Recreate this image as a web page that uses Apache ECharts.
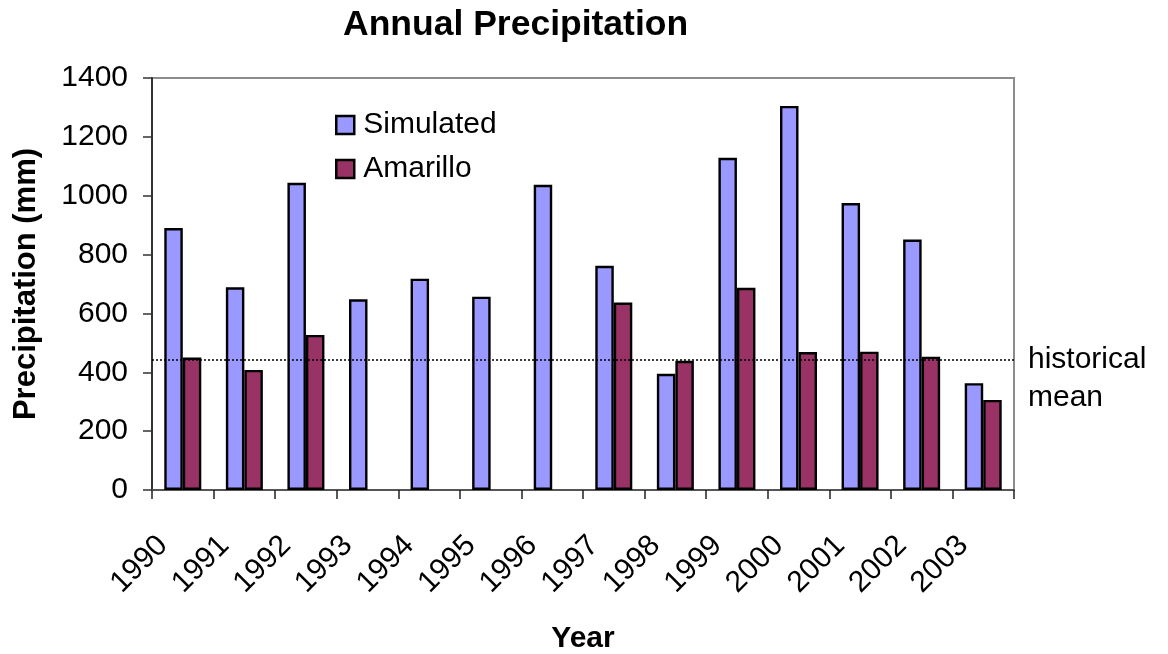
<!DOCTYPE html>
<html>
<head>
<meta charset="utf-8">
<title>Annual Precipitation</title>
<script src="https://cdn.jsdelivr.net/npm/echarts@6/dist/echarts.min.js"></script>
<style>
  html, body { margin: 0; padding: 0; background: #ffffff; }
  #chart { width: 1168px; height: 654px; }
</style>
</head>
<body>
<div id="chart"></div>
<script>
// Annual precipitation (mm), simulated vs. observed at Amarillo
const years = ['1990', '1991', '1992', '1993', '1994', '1995', '1996',
               '1997', '1998', '1999', '2000', '2001', '2002', '2003'];
const simulated = [890, 689, 1044, 648, 718, 657, 1037, 762, 395, 1129, 1305, 975, 851, 363];
const amarillo = [450, 408, 527, null, null, null, null, 637, 439, 687, 469, 470, 453, 306];
const historicalMean = 443;
const yTicks = [0, 200, 400, 600, 800, 1000, 1200, 1400];

const FONT = '"Liberation Sans", Arial, sans-serif';

const chart = echarts.init(document.getElementById('chart'), null, { renderer: 'canvas' });

chart.setOption({
  backgroundColor: '#ffffff',
  animation: false,
  textStyle: { fontFamily: FONT, color: '#000' },
  title: {
    text: 'Annual Precipitation',
    left: 338,
    top: 2,
    textStyle: { fontFamily: FONT, fontSize: 35.5, fontWeight: 'bold', color: '#000' }
  },
  legend: {
    orient: 'vertical',
    left: 330,
    top: 105,
    itemWidth: 18,
    itemHeight: 18,
    itemGap: 14,
    icon: 'rect',
    itemStyle: { borderColor: '#000', borderWidth: 2.5 },
    textStyle: { fontFamily: FONT, fontSize: 30, color: '#000', padding: [0, 0, 0, 4] },
    data: ['Simulated', 'Amarillo']
  },
  grid: {
    left: 152,
    right: 154,
    top: 78,
    bottom: 164,
    outerBoundsMode: 'none',
    containLabel: false,
    show: true,
    borderColor: '#8c8c8c',
    borderWidth: 2,
    backgroundColor: 'transparent'
  },
  xAxis: {
    type: 'category',
    data: years,
    boundaryGap: true,
    name: 'Year',
    nameLocation: 'middle',
    nameGap: 134,
    nameTextStyle: { fontFamily: FONT, fontSize: 30, fontWeight: 'bold', color: '#000' },
    axisLine: { show: true, lineStyle: { color: '#555', width: 2 } },
    axisTick: { show: true, length: 9, lineStyle: { color: '#222', width: 1.5 } },
    axisLabel: {
      rotate: 45,
      margin: 31,
      padding: [0, 28, 0, 0],
      fontFamily: FONT,
      fontSize: 30,
      color: '#000',
      interval: 0
    },
    splitLine: { show: false }
  },
  yAxis: {
    type: 'value',
    min: 0,
    max: 1400,
    interval: 200,
    name: 'Precipitation (mm)',
    nameLocation: 'middle',
    nameGap: 110,
    nameRotate: 90,
    nameTextStyle: { fontFamily: FONT, fontSize: 31, fontWeight: 'bold', color: '#000' },
    axisLine: { show: true, lineStyle: { color: '#333', width: 2 } },
    axisTick: { show: true, length: 9, lineStyle: { color: '#333', width: 1.5 } },
    axisLabel: {
      margin: 24,
      fontFamily: FONT,
      fontSize: 30,
      color: '#000',
      formatter: function (v) { return yTicks.indexOf(v) >= 0 ? String(v) : ''; }
    },
    splitLine: { show: false }
  },
  series: [
    {
      name: 'Simulated',
      type: 'bar',
      data: simulated,
      barWidth: 18.5,
      barGap: '0%',
      itemStyle: { color: '#9999ff', borderColor: '#000', borderWidth: 2.4 },
      markLine: {
        silent: true,
        symbol: 'none',
        lineStyle: { color: '#000', type: [2, 2], width: 1.5 },
        label: {
          show: true,
          position: 'end',
          distance: 14,
          // leading blank line drops the two-line caption so "historical" sits on the line
          formatter: '\nhistorical\nmean',
          fontFamily: FONT,
          fontSize: 30,
          lineHeight: 38,
          color: '#000',
          align: 'left'
        },
        data: [{ yAxis: historicalMean }]
      }
    },
    {
      name: 'Amarillo',
      type: 'bar',
      data: amarillo,
      barWidth: 18.5,
      barGap: '0%',
      itemStyle: { color: '#993366', borderColor: '#000', borderWidth: 2.4 }
    }
  ]
});
</script>
</body>
</html>
